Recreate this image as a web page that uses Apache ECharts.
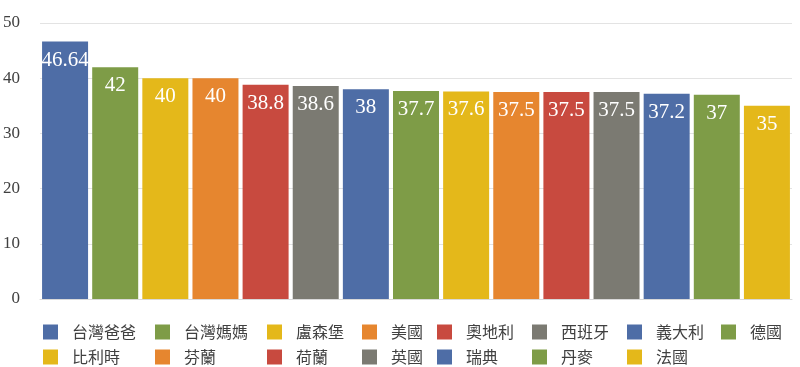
<!DOCTYPE html>
<html>
<head>
<meta charset="utf-8">
<script src="https://cdn.jsdelivr.net/npm/echarts@6/dist/echarts.min.js"></script>
<style>html,body{margin:0;padding:0;background:#fff;}#c{width:800px;height:367px;}</style>
</head>
<body>
<div id="c"></div>
<script>
var categories = ['台灣爸爸','台灣媽媽','盧森堡','美國','奧地利','西班牙','義大利','德國','比利時','芬蘭','荷蘭','英國','瑞典','丹麥','法國'];
var values = [46.64, 42, 40, 40, 38.8, 38.6, 38, 37.7, 37.6, 37.5, 37.5, 37.5, 37.2, 37, 35];
var colors = ['#4E6DA6','#7E9C47','#E4B81A','#E6862F','#C84A3F','#7B7A72'];
var yTicks = {min: 0, max: 50, interval: 10};

var legendCols = [43, 155, 267, 362, 437, 532, 627, 721];
var legendRows = [324, 349];

var series = categories.map(function (name, i) {
  var d = categories.map(function (_, j) { return j === i ? values[i] : null; });
  return {
    name: name,
    type: 'bar',
    stack: 'all',
    barWidth: 46,
    data: d,
    itemStyle: { color: colors[i % colors.length] },
    label: {
      show: true,
      position: 'insideTop',
      distance: 8,
      color: '#fff',
      fontFamily: 'Liberation Serif',
      fontSize: 21
    }
  };
});

var legends = categories.map(function (name, i) {
  var row = i < 8 ? 0 : 1;
  var col = i < 8 ? i : i - 8;
  return {
    data: [name],
    left: legendCols[col],
    top: legendRows[row],
    padding: 0,
    itemWidth: 15,
    itemHeight: 15,
    icon: 'rect',
    selectedMode: false,
    textStyle: {
      fontFamily: 'Noto Sans CJK TC',
      fontSize: 16,
      color: '#404040',
      padding: [0, 0, 0, 9]
    }
  };
});

var chart = echarts.init(document.getElementById('c'));
chart.setOption({
  animation: false,
  grid: { left: 37, right: 8, top: 23, bottom: 68 },
  legend: legends,
  xAxis: {
    type: 'category',
    data: categories,
    axisLabel: { show: false },
    axisTick: { show: false },
    axisLine: { show: true, lineStyle: { color: '#d9d9d9' } }
  },
  yAxis: {
    type: 'value',
    min: yTicks.min,
    max: yTicks.max,
    interval: yTicks.interval,
    axisLabel: { margin: 20, fontFamily: 'Liberation Serif', fontSize: 17, color: '#404040' },
    axisLine: { show: false },
    axisTick: { show: false },
    splitLine: { lineStyle: { color: '#e3e3e3' } }
  },
  series: series
});
</script>
</body>
</html>
